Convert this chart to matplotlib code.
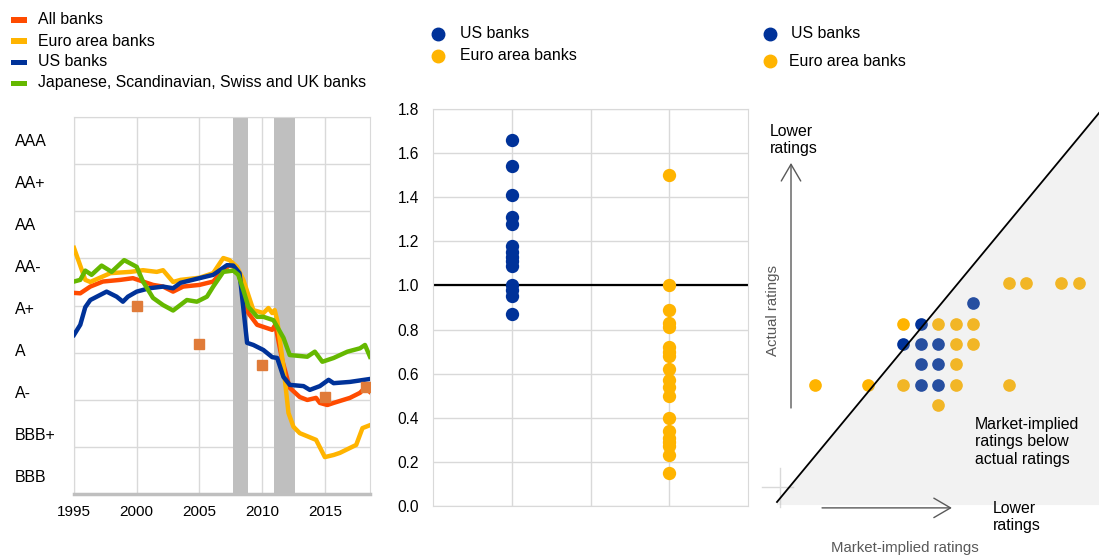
import matplotlib
matplotlib.use("Agg")
import matplotlib.pyplot as plt
from matplotlib.lines import Line2D
from matplotlib.patches import Polygon, Rectangle
import numpy as np

plt.rcParams["font.family"] = ["Liberation Sans", "DejaVu Sans"]
plt.rcParams["font.size"] = 11.4

W, H = 1099, 556

BLUE = "#003299"
YELLOW = "#ffb400"
ORANGE = "#ff4b00"
GREEN = "#65b800"
GRID = "#d9d9d9"
BAND = "#bfbfbf"
SQUARE = "#e07b39"
DARKGREY = "#595959"

# ---- left panel: average rating, notch scale (BBB = 1 ... AAA = 9)
rating_labels = ["BBB", "BBB+", "A-", "A", "A+", "AA-", "AA", "AA+", "AAA"]
rating_pos = [1, 2, 3, 4, 5, 6, 7, 8, 9]

all_years = [1995.0, 1995.5, 1996.3, 1997.3, 1998.7, 1999.7, 2000.5, 2001.3, 2002.1, 2002.9,
             2003.7, 2005.0, 2006.1, 2006.9, 2007.4, 2008.0, 2008.4, 2008.9, 2009.6, 2010.8,
             2011.05, 2011.6, 2012.2, 2013.0, 2013.6, 2014.3, 2014.6, 2015.2, 2015.7, 2017.0,
             2017.8, 2018.2, 2018.6]
all_vals = [5.36, 5.35, 5.51, 5.63, 5.67, 5.71, 5.63, 5.55, 5.51, 5.39,
            5.51, 5.55, 5.63, 5.90, 6.02, 5.95, 5.51, 4.88, 4.60, 4.48,
            4.60, 3.76, 3.10, 2.88, 2.81, 2.86, 2.74, 2.69, 2.74, 2.86,
            2.98, 3.10, 3.00]

euro_years = [1995.0, 1995.9, 1996.3, 1997.9, 1999.5, 2000.5, 2001.6, 2002.1, 2002.9, 2003.5,
              2005.0, 2006.1, 2006.9, 2007.4, 2008.0, 2008.5, 2009.3, 2010.1, 2010.5, 2010.8,
              2011.0, 2011.2, 2011.7, 2012.1, 2012.5, 2013.0, 2014.3, 2015.0, 2015.7, 2016.2,
              2017.5, 2018.0, 2018.6]
euro_vals = [6.43, 5.67, 5.62, 5.83, 5.86, 5.90, 5.86, 5.90, 5.62, 5.67,
             5.72, 5.83, 6.19, 6.14, 5.98, 5.67, 4.95, 4.88, 5.00, 4.88,
             4.95, 4.71, 3.60, 2.50, 2.17, 2.02, 1.86, 1.45, 1.50, 1.55,
             1.74, 2.14, 2.21]

us_years = [1995.0, 1995.5, 1995.9, 1996.3, 1997.6, 1998.4, 1998.9, 1999.3, 2000.0, 2001.0,
            2002.1, 2002.9, 2003.5, 2005.0, 2006.1, 2007.2, 2007.7, 2008.2, 2008.8, 2009.3,
            2010.1, 2010.8, 2011.2, 2011.7, 2012.2, 2013.3, 2013.8, 2014.6, 2015.3, 2015.7,
            2017.0, 2018.6]
us_vals = [4.36, 4.60, 5.02, 5.19, 5.39, 5.27, 5.15, 5.27, 5.39, 5.47,
           5.51, 5.47, 5.60, 5.71, 5.79, 6.02, 6.01, 5.83, 4.17, 4.12,
           4.00, 3.83, 3.81, 3.36, 3.17, 3.14, 3.05, 3.14, 3.29, 3.21,
           3.24, 3.31]

other_years = [1995.0, 1995.5, 1995.9, 1996.4, 1997.2, 1998.0, 1999.0, 2000.0, 2000.5, 2001.3,
               2002.1, 2002.9, 2004.0, 2004.8, 2005.6, 2006.1, 2006.9, 2007.7, 2008.1, 2008.5,
               2008.9, 2009.6, 2010.1, 2010.9, 2011.7, 2012.2, 2013.6, 2014.2, 2014.8, 2015.7,
               2016.8, 2017.8, 2018.2, 2018.6]
other_vals = [5.63, 5.67, 5.89, 5.79, 6.01, 5.86, 6.14, 5.98, 5.63, 5.24,
              5.07, 4.94, 5.19, 5.15, 5.27, 5.51, 5.86, 5.89, 5.79, 5.43,
              5.03, 4.79, 4.79, 4.71, 4.29, 3.88, 3.84, 3.96, 3.72, 3.81,
              3.96, 4.04, 4.12, 3.84]

square_years = [2000, 2005, 2010, 2015, 2018.3]
square_vals = [5.05, 4.14, 3.64, 2.88, 3.11]

crisis_periods = [(2007.7, 2008.85), (2010.95, 2012.6)]

# ---- middle panel: ratio values
us_ratio = [1.66, 1.54, 1.41, 1.31, 1.28, 1.18, 1.15, 1.13, 1.11, 1.09, 1.00, 0.98, 0.95, 0.87]
euro_ratio = [1.50, 1.00, 0.89, 0.83, 0.81, 0.72, 0.70, 0.68, 0.62, 0.57, 0.54, 0.50,
              0.40, 0.34, 0.31, 0.29, 0.27, 0.23, 0.15]

# ---- right panel: (market-implied notch, actual notch)
us_market = [9, 6, 5, 6, 7, 6, 7, 6, 7]
us_actual = [5, 4, 3, 3, 3, 2, 2, 1, 1]
euro_market = [11, 12, 14, 15, 5, 7, 8, 9, 8, 9, 8, 0, 3, 5, 8, 11, 7]
euro_actual = [6, 6, 6, 6, 4, 4, 4, 4, 3, 3, 2, 1, 1, 1, 1, 1, 0]


def box(x0, y0, x1, y1):
    return [x0 / W, 1 - y1 / H, (x1 - x0) / W, (y1 - y0) / H]


fig = plt.figure(figsize=(W / 100, H / 100), dpi=100)

# ================= left panel =================
ax1 = fig.add_axes(box(74, 117, 370, 494))
ylo, yhi = 0.571, 9.548
ax1.set_xlim(1995, 2018.6)
ax1.set_ylim(ylo, yhi)
ax1.set_yticks(np.linspace(ylo, yhi, 9))
ax1.set_yticklabels([])
ax1.set_yticks(rating_pos, minor=True)
ax1.set_yticklabels(rating_labels, minor=True, ha="left")
ax1.set_xticks([1995, 2000, 2005, 2010, 2015])
ax1.tick_params(axis="y", which="both", length=0, pad=42.5, labelsize=11.4)
ax1.tick_params(axis="x", length=0, pad=8, labelsize=11)
ax1.grid(True, which="major", color=GRID, lw=1)
ax1.set_axisbelow(True)
for s in ["left", "top", "right"]:
    ax1.spines[s].set_color(GRID)
ax1.spines["bottom"].set_color(BAND)
ax1.spines["bottom"].set_linewidth(2.5)

for a, b in crisis_periods:
    ax1.axvspan(a, b, color=BAND, lw=0, zorder=1)

ax1.plot(all_years, all_vals, color=ORANGE, lw=3.2, zorder=3, solid_joinstyle="round")
ax1.plot(euro_years, euro_vals, color=YELLOW, lw=3.2, zorder=3, solid_joinstyle="round")
ax1.plot(us_years, us_vals, color=BLUE, lw=3.2, zorder=3, solid_joinstyle="round")
ax1.plot(other_years, other_vals, color=GREEN, lw=3.2, zorder=3, solid_joinstyle="round")
ax1.plot(square_years, square_vals, ls="none", marker="s", ms=7, color=SQUARE, zorder=4)

# legend (left)
left_items = [(ORANGE, "All banks"), (YELLOW, "Euro area banks"), (BLUE, "US banks"),
              (GREEN, "Japanese, Scandinavian, Swiss and UK banks")]
for i, (c, lab) in enumerate(left_items):
    y = 20 + i * 21
    fig.add_artist(Rectangle((11 / W, 1 - (y + 2.5) / H), 16 / W, 5 / H,
                             transform=fig.transFigure, color=c, lw=0))
    fig.text(38 / W, 1 - y / H, lab, va="center", ha="left")

# ================= middle panel =================
ax2 = fig.add_axes(box(433, 109, 748, 506))
ax2.set_xlim(0, 2)
ax2.set_ylim(0, 1.8)
ax2.set_xticks([0.5, 1.0, 1.5])
ax2.set_xticklabels([])
ax2.set_yticks(np.arange(0, 1.81, 0.2))
ax2.set_yticklabels([f"{v:.1f}" for v in np.arange(0, 1.81, 0.2)])
ax2.tick_params(length=0, pad=10, labelsize=11.2)
ax2.grid(True, color=GRID, lw=1)
ax2.set_axisbelow(True)
for s in ax2.spines.values():
    s.set_color(GRID)
ax2.axhline(1.0, color="black", lw=1.6, zorder=2)
ax2.scatter([0.5] * len(us_ratio), us_ratio, s=92, color=BLUE, lw=0, zorder=3)
ax2.scatter([1.5] * len(euro_ratio), euro_ratio, s=92, color=YELLOW, lw=0, zorder=3)

# ================= right panel =================
ax3 = fig.add_axes(box(755, 100, 1099, 556))
ax3.set_xlim(-3.41, 16.14)
ax3.set_ylim(-7.44, 15.02)
ax3.axis("off")

ax3.scatter(us_market, us_actual, s=83, color=BLUE, lw=0, zorder=2)
ax3.scatter(euro_market, euro_actual, s=83, color=YELLOW, lw=0, zorder=2)

# shaded region: market-implied below actual
ax3.add_patch(Polygon([(-2.16, -4.78), (16.14, 14.38), (16.14, -4.93), (-2.16, -4.93)],
                      closed=True, facecolor=BAND, alpha=0.2, lw=0, zorder=3))
ax3.plot([-2.16, 16.14], [-4.78, 14.38], color="black", lw=1.3, zorder=4)

# axis remnants
ax3.plot([-1.99, -1.99], [-3.10, -5.02], color=GRID, lw=1, zorder=1)
ax3.plot([-3.01, -1.25], [-4.04, -4.04], color=GRID, lw=1, zorder=1)

arrow_style = "->,head_length=0.6,head_width=0.35"
ax3.annotate("", xy=(-1.364, 11.92), xytext=(-1.364, -0.15),
             arrowprops=dict(arrowstyle=arrow_style, color=DARKGREY, lw=1,
                             mutation_scale=20, shrinkA=0, shrinkB=0))
ax3.annotate("", xy=(7.78, -5.07), xytext=(0.40, -5.07),
             arrowprops=dict(arrowstyle=arrow_style, color=DARKGREY, lw=1,
                             mutation_scale=20, shrinkA=0, shrinkB=0))

ax3.text(-2.56, 13.84, "Lower\nratings", ha="left", va="top")
ax3.text(-2.39, 4.63, "Actual ratings", rotation=90, ha="center", va="center",
         fontsize=10.8, color=DARKGREY)
ax3.text(9.09, -0.59, "Market-implied\nratings below\nactual ratings",
         ha="left", va="top", zorder=5)
ax3.text(10.11, -4.73, "Lower\nratings", ha="left", va="top")
ax3.text(5.11, -7.04, "Market-implied ratings", ha="center", va="center",
         fontsize=10.8, color=DARKGREY, clip_on=False)

# legends (middle and right)
for (x, y, c, lab) in [(438, 34, BLUE, "US banks"), (438, 56, YELLOW, "Euro area banks")]:
    fig.add_artist(Line2D([x / W], [1 - y / H], marker="o", ms=9, color=c, lw=0,
                          transform=fig.transFigure))
    fig.text(460 / W, 1 - y / H, lab, va="center", ha="left")
for (x, y, tx, c, lab) in [(770, 34, 791, BLUE, "US banks"), (770, 61, 789, YELLOW, "Euro area banks")]:
    fig.add_artist(Line2D([x / W], [1 - y / H], marker="o", ms=9, color=c, lw=0,
                          transform=fig.transFigure))
    fig.text(tx / W, 1 - y / H, lab, va="center", ha="left")

fig.savefig("out.png", dpi=100)
